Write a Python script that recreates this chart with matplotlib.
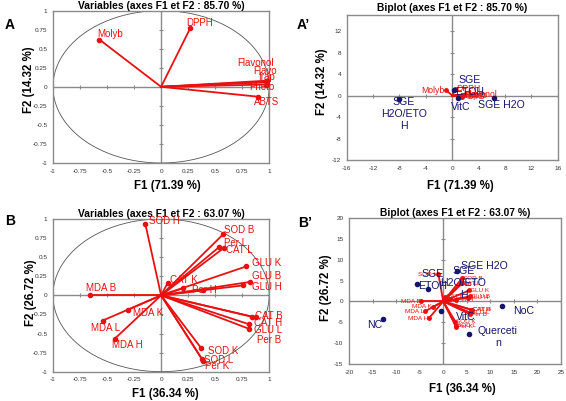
import numpy as np
import matplotlib.pyplot as plt

plt.rcParams['font.family'] = ['Liberation Sans', 'DejaVu Sans']

# ---- panel A : correlation circle ----
a_vars = ['Flavonol', 'Flavo', 'frap', 'Pheto', 'ABTS', 'DPPH', 'Molyb']
a_f1 = [0.97, 0.98, 0.99, 0.97, 0.90, 0.27, -0.57]
a_f2 = [0.08, 0.07, 0.06, 0.03, -0.13, 0.77, 0.62]
a_lab_pos = [(0.705, 0.31), (0.855, 0.21), (0.9, 0.13), (0.82, 0.0),
             (0.86, -0.2), (0.235, 0.84), (-0.59, 0.69)]

# ---- panel A' : biplot observations ----
ap_obs = ['SGE\nH2O/ETO\nH', 'SGE H2O', 'SGE\nETOH', 'VitC']
ap_f1 = [-8.0, 6.4, 0.2, 0.8]
ap_f2 = [-0.7, -0.4, 1.1, -0.5]
ap_lab_pos = [(-7.3, -3.4), (7.4, -1.7), (2.6, 1.8), (1.3, -2.2)]

# ---- panel B : correlation circle ----
b_vars = ['SOD H', 'SOD B', 'Per L', 'CAT L', 'GLU K', 'GLU B', 'GLU H',
          'CAT K', '', 'Per H', 'MDA B', 'MDA L', 'MDA K', 'MDA H',
          'CAT B', 'CAT H', 'GLU L', 'Per B', 'SOD K', 'SOD L', 'Per K']
b_f1 = [-0.145, 0.575, 0.535, 0.58, 0.79, 0.82, 0.76,
        0.06, 0.20, 0.39, -0.66, -0.54, -0.31, -0.43,
        0.875, 0.84, 0.816, 0.816, 0.37, 0.38, 0.39]
b_f2 = [0.93, 0.80, 0.63, 0.62, 0.38, 0.175, 0.13,
        0.16, 0.09, 0.065, 0.0, -0.33, -0.19, -0.57,
        -0.29, -0.28, -0.38, -0.44, -0.69, -0.84, -0.86]
b_lab_pos = [(-0.115, 0.97), (0.58, 0.86), (0.58, 0.69), (0.605, 0.6),
             (0.845, 0.42), (0.845, 0.25), (0.845, 0.105), (0.08, 0.2),
             (0.2, 0.09), (0.29, 0.075), (-0.69, 0.09), (-0.645, -0.43),
             (-0.26, -0.23), (-0.45, -0.655), (0.87, -0.275), (0.855, -0.36),
             (0.86, -0.46), (0.89, -0.58), (0.43, -0.73), (0.4, -0.85),
             (0.405, -0.93)]

# ---- panel B' : biplot observations ----
bp_obs = ['NC', 'NoC', 'Querceti\nn', 'VitC', 'SGE\nETOH', 'SGE\nH2O/ETO\nH', 'SGE H2O']
bp_f1 = [-12.7, 12.5, 5.5, -0.4, -5.6, -3.2, 3.0]
bp_f2 = [-4.2, -1.0, -7.8, -2.4, 4.2, 3.0, 7.4]
bp_lab_pos = [(-14.5, -5.6), (17.0, -2.4), (11.6, -8.6), (4.8, -3.8),
              (-2.3, 5.2), (4.3, 4.4), (8.8, 8.5)]

RED = '#e81010'
NAVY = '#15156b'
GRAY = '#8a8a8a'


def frame(ax, xlim, ylim, xt, yt, xtl, ytl):
    ax.set_xlim(*xlim)
    ax.set_ylim(*ylim)
    ax.set_xticks(xt)
    ax.set_yticks(yt)
    ax.set_xticklabels(xtl)
    ax.set_yticklabels(ytl)
    ax.tick_params(length=0, labelsize=4.6, colors='#333333', pad=4)
    for s in ax.spines.values():
        s.set_color(GRAY)
        s.set_linewidth(1.0)
    ax.axhline(0, color=GRAY, lw=1.0, zorder=1)
    ax.axvline(0, color=GRAY, lw=1.0, zorder=1)
    ax.plot(xt, np.zeros(len(xt)), ls='none', marker='|', ms=3.5, mew=0.8, color=GRAY, zorder=1)
    ax.plot(np.zeros(len(yt)), yt, ls='none', marker='_', ms=3.5, mew=0.8, color=GRAY, zorder=1)


def labels(ax, title, xl, yl, pad, xc, yc):
    ax.set_title(title, fontsize=7.4, fontweight='bold', pad=pad)
    ax.set_xlabel(xl, fontsize=8.3, fontweight='bold')
    ax.set_ylabel(yl, fontsize=8.3, fontweight='bold')
    ax.xaxis.set_label_coords(*xc)
    ax.yaxis.set_label_coords(*yc)


def circle_panel(ax, names, f1, f2, pos):
    ticks = [-1, -0.75, -0.5, -0.25, 0, 0.25, 0.5, 0.75, 1]
    tl = ['-1', '-0.75', '-0.5', '-0.25', '0', '0.25', '0.5', '0.75', '1']
    frame(ax, (-1, 1), (-1, 1), ticks, ticks, tl, tl)
    t = np.linspace(0, 2 * np.pi, 300)
    ax.plot(np.cos(t), np.sin(t), color='#555555', lw=0.6, zorder=1)
    for x, y in zip(f1, f2):
        ax.plot([0, x], [0, y], color=RED, lw=1.3, zorder=2)
    ax.plot(f1, f2, 'o', color=RED, ms=3, zorder=3)
    for n, (lx, ly) in zip(names, pos):
        ax.text(lx, ly, n, color=RED, fontsize=7, va='center', ha='left', zorder=4)


def biplot_panel(ax, names, vf1, vf2, k, vfs, obs, of1, of2, opos, xr, yr, xt, yt):
    frame(ax, xr, yr, xt, yt, [str(v) for v in xt], [str(v) for v in yt])
    sx = [k * v for v in vf1]
    sy = [k * v for v in vf2]
    for x, y in zip(sx, sy):
        ax.plot([0, x], [0, y], color=RED, lw=1.3, zorder=2)
    ax.plot(sx, sy, 'o', color=RED, ms=2.5, zorder=3)
    for n, x, y in zip(names, sx, sy):
        ha = 'left' if x >= 0 else 'right'
        ax.text(x + (0.2 if x >= 0 else -0.2), y, n, color=RED, fontsize=vfs,
                ha=ha, va='center', zorder=4)
    ax.plot(of1, of2, 'o', color=NAVY, ms=3, zorder=5)
    for n, (lx, ly) in zip(obs, opos):
        ax.text(lx, ly, n, color=NAVY, fontsize=7.6, ha='center', va='center',
                linespacing=1.25, zorder=5)


fig = plt.figure(figsize=(5.66, 4.01), dpi=100)

axA = fig.add_axes([0.0936, 0.5935, 0.382, 0.380])
circle_panel(axA, a_vars, a_f1, a_f2, a_lab_pos)
labels(axA, 'Variables (axes F1 et F2 : 85.70 %)', 'F1 (71.39 %)', 'F2 (14.32 %)',
       0.5, (0.53, -0.11), (-0.083, 0.55))

axAp = fig.add_axes([0.6125, 0.601, 0.373, 0.3616])
biplot_panel(axAp, a_vars, a_f1, a_f2, 1.6, 6.2, ap_obs, ap_f1, ap_f2, ap_lab_pos,
             (-16, 16), (-12, 15), list(range(-16, 17, 4)), list(range(-12, 13, 4)))
labels(axAp, 'Biplot (axes F1 et F2 : 85.70 %)', 'F1 (71.39 %)', 'F2 (14.32 %)',
       3.0, (0.537, -0.138), (-0.089, 0.54))

axB = fig.add_axes([0.0936, 0.0731, 0.382, 0.3808])
circle_panel(axB, b_vars, b_f1, b_f2, b_lab_pos)
labels(axB, 'Variables (axes F1 et F2 : 63.07 %)', 'F1 (36.34 %)', 'F2 (26.72 %)',
       1.5, (0.52, -0.11), (-0.074, 0.52))

axBp = fig.add_axes([0.6166, 0.0923, 0.3746, 0.364])
biplot_panel(axBp, b_vars, b_f1, b_f2, 7.0, 4.6, bp_obs, bp_f1, bp_f2, bp_lab_pos,
             (-20, 25), (-15, 20), list(range(-20, 26, 5)), list(range(-15, 21, 5)))
labels(axBp, 'Biplot (axes F1 et F2 : 63.07 %)', 'F1 (36.34 %)', 'F2 (26.72 %)',
       0.5, (0.533, -0.13), (-0.08, 0.52))

for txt, x, y in [('A', 0.009, 0.937), ("A\u2019", 0.525, 0.937),
                  ('B', 0.009, 0.449), ("B\u2019", 0.527, 0.444)]:
    fig.text(x, y, txt, fontsize=10, fontweight='bold', ha='left', va='center')

fig.savefig('out.png', dpi=100)
